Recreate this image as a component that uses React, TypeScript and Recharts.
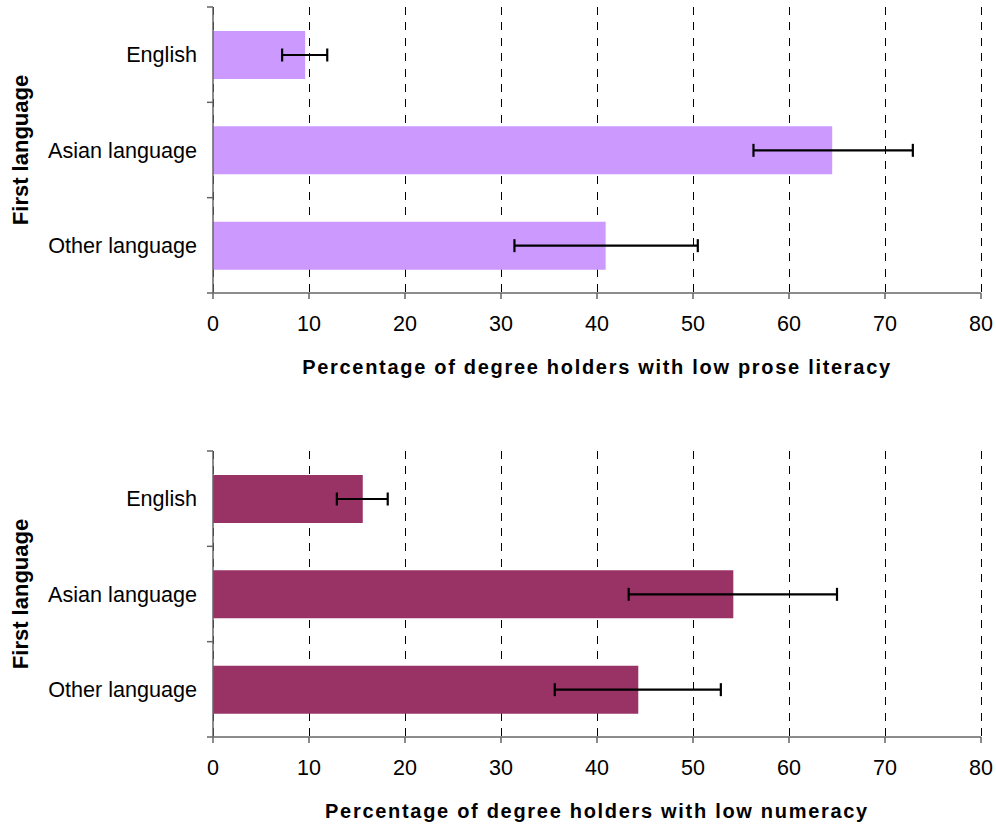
import React from "react";
import {
  BarChart,
  Bar,
  XAxis,
  YAxis,
  CartesianGrid,
  ErrorBar,
  Label,
} from "recharts";

const categories = ["English", "Asian language", "Other language"];

const proseValues = [9.6, 64.5, 40.9];
const proseLow = [7.2, 56.3, 31.4];
const proseHigh = [11.9, 72.9, 50.5];

const numeracyValues = [15.6, 54.2, 44.3];
const numeracyLow = [12.9, 43.3, 35.6];
const numeracyHigh = [18.2, 65.0, 52.9];

const xTicks = [0, 10, 20, 30, 40, 50, 60, 70, 80];

const FONT = "'Liberation Sans', Arial, sans-serif";
const AXIS_COLOR = "#666666";

const CHART_W = 996;
const CHART_H = 400;
const MARGIN = { top: 7, right: 15, bottom: 17, left: 0 };
const X_AXIS_H = 90;
const Y_AXIS_W = 213;
const PLOT_H = CHART_H - MARGIN.top - MARGIN.bottom - X_AXIS_H;
const BAND = PLOT_H / categories.length;
const Y_TICK_SIZE = 6;
const Y_TICK_MARGIN = 10;

function buildData(values: number[], low: number[], high: number[]) {
  return categories.map((c, i) => ({
    category: c,
    value: values[i],
    err: [values[i] - low[i], high[i] - values[i]],
  }));
}

const proseData = buildData(proseValues, proseLow, proseHigh);
const numeracyData = buildData(numeracyValues, numeracyLow, numeracyHigh);

const YTick = (props: any) => {
  const { x, y, payload, index, visibleTicksCount } = props;
  const axisX = x + Y_TICK_SIZE + Y_TICK_MARGIN;
  const isLast = index === (visibleTicksCount ?? categories.length) - 1;
  return (
    <g>
      <line
        x1={axisX - Y_TICK_SIZE}
        x2={axisX}
        y1={y - BAND / 2}
        y2={y - BAND / 2}
        stroke={AXIS_COLOR}
        strokeWidth={1.5}
      />
      {isLast && (
        <line
          x1={axisX - Y_TICK_SIZE}
          x2={axisX}
          y1={y + BAND / 2}
          y2={y + BAND / 2}
          stroke={AXIS_COLOR}
          strokeWidth={1.5}
        />
      )}
      <text
        x={x}
        y={y}
        dy="0.36em"
        textAnchor="end"
        fill="#000"
        fontFamily={FONT}
        fontSize={21.6}
      >
        {payload.value}
      </text>
    </g>
  );
};

const YTitle = (props: any) => {
  const vb = props.viewBox || {};
  const cx = 28;
  const cy = (vb.y ?? MARGIN.top) + (vb.height ?? PLOT_H) / 2;
  return (
    <text
      x={cx}
      y={cy}
      transform={`rotate(-90 ${cx} ${cy})`}
      textAnchor="middle"
      fill="#000"
      fontFamily={FONT}
      fontWeight="bold"
      fontSize={22}
    >
      First language
    </text>
  );
};

function Panel({
  data,
  color,
  title,
}: {
  data: any[];
  color: string;
  title: string;
}) {
  return (
    <BarChart
      width={CHART_W}
      height={CHART_H}
      data={data}
      layout="vertical"
      margin={MARGIN}
    >
      <CartesianGrid
        horizontal={false}
        vertical={true}
        stroke="#000"
        strokeDasharray="8 7.4"
        shapeRendering="crispEdges"
      />
      <XAxis
        type="number"
        domain={[0, 80]}
        ticks={xTicks}
        allowDataOverflow
        height={X_AXIS_H}
        tickSize={6}
        tickMargin={17}
        axisLine={{ stroke: AXIS_COLOR, strokeWidth: 1.5 }}
        tickLine={{ stroke: AXIS_COLOR, strokeWidth: 1.5 }}
        tick={{ fill: "#000", fontFamily: FONT, fontSize: 21.5 }}
      >
        <Label
          value={title}
          position="insideBottom"
          offset={9}
          fill="#000"
          fontFamily={FONT}
          fontWeight="bold"
          fontSize={20}
          letterSpacing={1.7}
        />
      </XAxis>
      <YAxis
        type="category"
        dataKey="category"
        width={Y_AXIS_W}
        tickSize={Y_TICK_SIZE}
        tickMargin={Y_TICK_MARGIN}
        tickLine={false}
        axisLine={{ stroke: AXIS_COLOR, strokeWidth: 1.5 }}
        tick={<YTick />}
        interval={0}
      >
        <Label content={<YTitle />} />
      </YAxis>
      <Bar dataKey="value" fill={color} barSize={48} isAnimationActive={false}>
        <ErrorBar
          dataKey="err"
          direction="x"
          width={6.5}
          stroke="#000"
          strokeWidth={2.2}
          isAnimationActive={false}
        />
      </Bar>
    </BarChart>
  );
}

export default function App() {
  return (
    <div
      style={{
        position: "absolute",
        left: 0,
        top: 0,
        width: 996,
        height: 825,
        overflow: "hidden",
        background: "#fff",
      }}
    >
      <div style={{ position: "absolute", left: 0, top: 0 }}>
        <Panel
          data={proseData}
          color="#CC99FF"
          title="Percentage of degree holders with low prose literacy"
        />
      </div>
      <div style={{ position: "absolute", left: 0, top: 444 }}>
        <Panel
          data={numeracyData}
          color="#993366"
          title="Percentage of degree holders with low numeracy"
        />
      </div>
    </div>
  );
}
